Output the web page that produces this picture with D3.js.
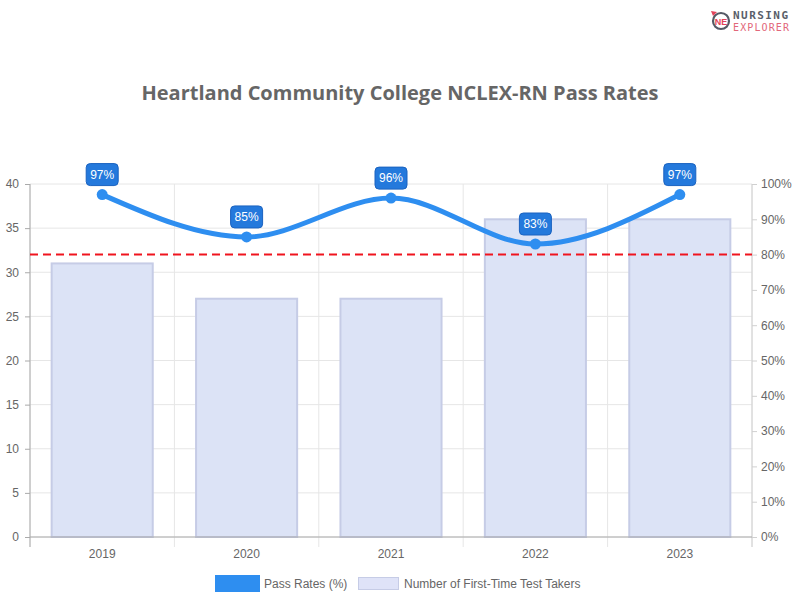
<!DOCTYPE html>
<html>
<head>
<meta charset="utf-8">
<script src="https://cdn.jsdelivr.net/npm/d3@7"></script>
<style>
  body { margin: 0; background: #fff; }
  svg { font-family: "Liberation Sans", Arial, sans-serif; }
</style>
</head>
<body>
<script>
const years = ["2019", "2020", "2021", "2022", "2023"]
const takers = [31, 27, 27, 36, 36]
const passRates = [97, 85, 96, 83, 97]
const benchmark = 80
const leftTicks = [0, 5, 10, 15, 20, 25, 30, 35, 40]
const rightTicks = [0, 10, 20, 30, 40, 50, 60, 70, 80, 90, 100]

const w = 800
const h = 600
const padL = 30, padR = 752, padT = 184, padB = 537

const svg = d3.select("body").append("svg")
  .attr("width", w)
  .attr("height", h)

// logo
const logo = svg.append("g")
logo.append("circle").attr("cx", 721).attr("cy", 21).attr("r", 8)
  .attr("fill", "none").attr("stroke", "#555a66").attr("stroke-width", 2.2)
logo.append("path").attr("d", "M711,11 L717,12 L713,16 Z").attr("fill", "#e2435a")
logo.append("text").attr("x", 721).attr("y", 24.5).attr("text-anchor", "middle")
  .attr("font-size", 9).attr("font-weight", "bold").attr("fill", "#e2435a").text("NE")
logo.append("text").attr("x", 733).attr("y", 19)
  .attr("font-size", 11).attr("font-weight", "bold").attr("fill", "#5a5f6a")
  .attr("font-family", "'DejaVu Sans Mono', monospace").attr("textLength", 55).text("NURSING")
logo.append("text").attr("x", 733).attr("y", 30.5)
  .attr("font-size", 10).attr("fill", "#e2677a")
  .attr("font-family", "'DejaVu Sans Mono', monospace").attr("textLength", 56).text("EXPLORER")

svg.append("text")
  .attr("x", w / 2)
  .attr("y", 100)
  .attr("text-anchor", "middle")
  .attr("font-family", "'Open Sans', sans-serif")
  .attr("font-weight", "bold")
  .attr("font-size", 20)
  .attr("fill", "#666")
  .text("Heartland Community College NCLEX-RN Pass Rates")

const xScale = d3.scaleBand().domain(years).range([padL, padR])
const yLeft = d3.scaleLinear().domain([0, 40]).range([padB, padT])
const yRight = d3.scaleLinear().domain([0, 100]).range([padB, padT])

// grid
svg.append("g").selectAll("line")
  .data(leftTicks)
  .enter().append("line")
  .attr("x1", padL).attr("x2", padR)
  .attr("y1", d => yLeft(d)).attr("y2", d => yLeft(d))
  .attr("stroke", "#e6e6e6")
const bounds = years.map(y => xScale(y)).concat([padR])
svg.append("g").selectAll("line")
  .data(bounds)
  .enter().append("line")
  .attr("x1", d => d).attr("x2", d => d)
  .attr("y1", padT).attr("y2", padB + 10)
  .attr("stroke", "#e6e6e6")

// bars
const barW = xScale.bandwidth() * 0.7
svg.append("g").selectAll("rect")
  .data(takers)
  .enter().append("rect")
  .attr("x", (d, i) => xScale(years[i]) + (xScale.bandwidth() - barW) / 2)
  .attr("y", d => yLeft(d))
  .attr("width", barW)
  .attr("height", d => padB - yLeft(d))
  .attr("fill", "#dce3f6")
  .attr("stroke", "#c6cce6")
  .attr("stroke-width", 2)

// axes
const yAxisL = d3.axisLeft(yLeft).tickValues(leftTicks).tickSize(5).tickPadding(6)
const gL = svg.append("g").attr("transform", "translate(" + padL + ",0)").call(yAxisL)
const yAxisR = d3.axisRight(yRight).tickValues(rightTicks).tickSize(5).tickPadding(4)
  .tickFormat(d => d + "%")
const gR = svg.append("g").attr("transform", "translate(" + padR + ",0)").call(yAxisR)
const xAxis = d3.axisBottom(xScale).tickSize(0).tickPadding(12)
const gX = svg.append("g").attr("transform", "translate(0," + padB + ")").call(xAxis)
;[gL, gR, gX].forEach(g => {
  g.selectAll("text").attr("fill", "#666").attr("font-size", 12)
    .attr("font-family", "'Liberation Sans', Arial, sans-serif")
  g.selectAll("line").attr("stroke", "#d0d0d0")
})
gL.select(".domain").attr("stroke", "#aaa")
gR.select(".domain").attr("stroke", "#d0d0d0")
gX.select(".domain").attr("stroke", "#aaa")
gX.select(".domain").attr("d", "M" + padL + ",0H" + padR)
gL.select(".domain").attr("d", "M0," + padT + "V" + (padB + 10))
gR.select(".domain").attr("d", "M0," + padT + "V" + (padB + 10))
gL.selectAll(".tick line").attr("stroke", "#aaa")

// benchmark line
svg.append("line")
  .attr("x1", padL).attr("x2", padR)
  .attr("y1", yRight(benchmark)).attr("y2", yRight(benchmark))
  .attr("stroke", "#f0141e")
  .attr("stroke-width", 2)
  .attr("stroke-dasharray", "8,5")

// pass rate line
const cx = (d, i) => xScale(years[i]) + xScale.bandwidth() / 2
const line = d3.line()
  .x(cx)
  .y(d => yRight(d))
  .curve(d3.curveMonotoneX)
svg.append("path")
  .datum(passRates)
  .attr("d", line)
  .attr("fill", "none")
  .attr("stroke", "#2e8ef0")
  .attr("stroke-width", 5)

svg.append("g").selectAll("circle")
  .data(passRates)
  .enter().append("circle")
  .attr("cx", cx)
  .attr("cy", d => yRight(d))
  .attr("r", 5.5)
  .attr("fill", "#2e8ef0")

const labels = svg.append("g").selectAll("g")
  .data(passRates)
  .enter().append("g")
  .attr("transform", (d, i) => "translate(" + cx(d, i) + "," + (yRight(d) - 20) + ")")
labels.append("rect")
  .attr("x", -16).attr("y", -11)
  .attr("width", 32).attr("height", 22)
  .attr("rx", 4)
  .attr("fill", "#2479dc")
  .attr("stroke", "#1a62c0")
labels.append("text")
  .attr("text-anchor", "middle")
  .attr("dy", "0.35em")
  .attr("fill", "#fff")
  .attr("font-size", 12)
  .text(d => d + "%")

// legend
svg.append("rect").attr("x", 215).attr("y", 575).attr("width", 45).attr("height", 17)
  .attr("fill", "#2e8ef0")
svg.append("text").attr("x", 264).attr("y", 588).attr("font-size", 12).attr("fill", "#666")
  .text("Pass Rates (%)")
svg.append("rect").attr("x", 358.5).attr("y", 577.5).attr("width", 40).attr("height", 12)
  .attr("fill", "#dfe3f8").attr("stroke", "#c6cce6").attr("stroke-width", 1)
svg.append("text").attr("x", 404).attr("y", 588).attr("font-size", 12).attr("fill", "#666")
  .text("Number of First-Time Test Takers")
</script>
</body>
</html>
